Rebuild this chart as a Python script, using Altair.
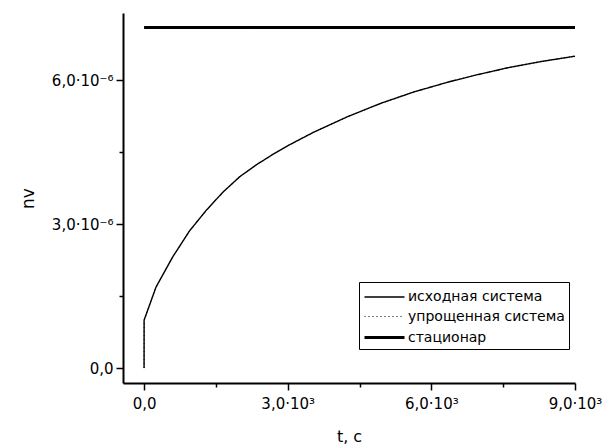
import altair as alt
import pandas as pd

# Time axis (s) and solution of the full system
t_values = [0, 1, 250, 600, 950, 1300, 1650, 2000, 2350, 2700, 3050,
            3550, 4250, 4950, 5650, 6350, 6900, 7600, 8300, 9000]
nv_full = [0.0, 1.0e-6, 1.69e-6, 2.32e-6, 2.86e-6, 3.29e-6, 3.67e-6, 3.99e-6,
           4.24e-6, 4.46e-6, 4.66e-6, 4.92e-6, 5.24e-6, 5.52e-6, 5.76e-6,
           5.96e-6, 6.10e-6, 6.26e-6, 6.39e-6, 6.50e-6]
# Simplified system follows the full one on this scale
nv_simple = list(nv_full)
# Stationary level
t_stat = [0, 9000]
nv_stat = [7.1e-6, 7.1e-6]

series_names = ["исходная система", "упрощенная система", "стационар"]

x_major = [0, 3000, 6000, 9000]
x_major_labels = ["0,0", "3,0·10³", "6,0·10³", "9,0·10³"]
x_minor = [1500, 4500, 7500]
y_major = [0.0, 3e-6, 6e-6]
y_major_labels = ["0,0", "3,0·10⁻⁶", "6,0·10⁻⁶"]
y_minor = [1.5e-6, 4.5e-6]

rows = []
for t, v in zip(t_values, nv_full):
    rows.append({"t": t, "nv": v, "series": series_names[0], "order": len(rows)})
for t, v in zip(t_values, nv_simple):
    rows.append({"t": t, "nv": v, "series": series_names[1], "order": len(rows)})
for t, v in zip(t_stat, nv_stat):
    rows.append({"t": t, "nv": v, "series": series_names[2], "order": len(rows)})
df = pd.DataFrame(rows)


def label_expr(values, labels, eps):
    expr = "''"
    for v, lab in reversed(list(zip(values, labels))):
        expr = f"abs(datum.value - ({v})) < {eps} ? '{lab}' : " + expr
    return expr


FONT = "DejaVu Sans"
x_scale = alt.Scale(domain=[-440, 9000], nice=False, zero=False)
y_scale = alt.Scale(domain=[-0.31e-6, 7.4e-6], nice=False, zero=False)

x_axis = alt.Axis(
    values=x_major, labelExpr=label_expr(x_major, x_major_labels, 1),
    title="t, c", grid=False, domainColor="black", domainWidth=2,
    tickColor="black", tickWidth=1.5, tickSize=7, labelFontSize=15,
    labelColor="black", labelFont=FONT, labelPadding=6, labelFlush=False,
    titleFont=FONT, titleFontSize=16, titleFontWeight="normal",
    titleColor="black", titlePadding=17, orient="bottom",
)
y_axis = alt.Axis(
    values=y_major, labelExpr=label_expr(y_major, y_major_labels, 1e-9),
    title="nv", grid=False, domainColor="black", domainWidth=2,
    tickColor="black", tickWidth=1.5, tickSize=7, labelFontSize=15,
    labelColor="black", labelFont=FONT, labelPadding=3,
    titleFont=FONT, titleFontSize=17, titleFontWeight="normal",
    titleColor="black", titlePadding=14, orient="left",
)

lines = alt.Chart(df).mark_line(interpolate="linear").encode(
    x=alt.X("t:Q", scale=x_scale, axis=x_axis),
    y=alt.Y("nv:Q", scale=y_scale, axis=y_axis),
    order="order:Q",
    color=alt.Color(
        "series:N",
        scale=alt.Scale(domain=series_names, range=["black", "black", "black"]),
        legend=alt.Legend(
            title=None, orient="none", legendX=236, legendY=269,
            symbolType="M-2,0H2", symbolSize=400, symbolOffset=10,
            labelFont=FONT, labelFontSize=14, labelColor="black",
            labelOffset=12, rowPadding=2, padding=4,
            strokeColor="black", fillColor="white",
        ),
    ),
    strokeDash=alt.StrokeDash(
        "series:N",
        scale=alt.Scale(domain=series_names, range=[[1, 0], [1, 3], [1, 0]]),
        legend=alt.Legend(title=None),
    ),
    strokeWidth=alt.StrokeWidth(
        "series:N",
        scale=alt.Scale(type="ordinal", domain=series_names, range=[1.4, 1.0, 3.0]),
        legend=alt.Legend(title=None),
    ),
)

# Minor ticks on both axes
minor = alt.Chart(df).mark_point(opacity=0).encode(
    x=alt.X("t:Q", scale=x_scale, axis=alt.Axis(
        values=x_minor, labels=False, title=None, domain=False, grid=False,
        tickColor="black", tickWidth=1.5, tickSize=4, orient="bottom")),
    y=alt.Y("nv:Q", scale=y_scale, axis=alt.Axis(
        values=y_minor, labels=False, title=None, domain=False, grid=False,
        tickColor="black", tickWidth=1.5, tickSize=4, orient="left")),
)

chart = alt.layer(lines, minor).resolve_axis(
    x="independent", y="independent"
).properties(
    width=452, height=370,
    padding={"left": 123, "top": 13, "right": 30, "bottom": 65},
    autosize=alt.AutoSizeParams(type="none"),
    background="white",
).configure_view(stroke=None)

chart.save("out.html", embed_options={"renderer": "svg", "actions": False})
